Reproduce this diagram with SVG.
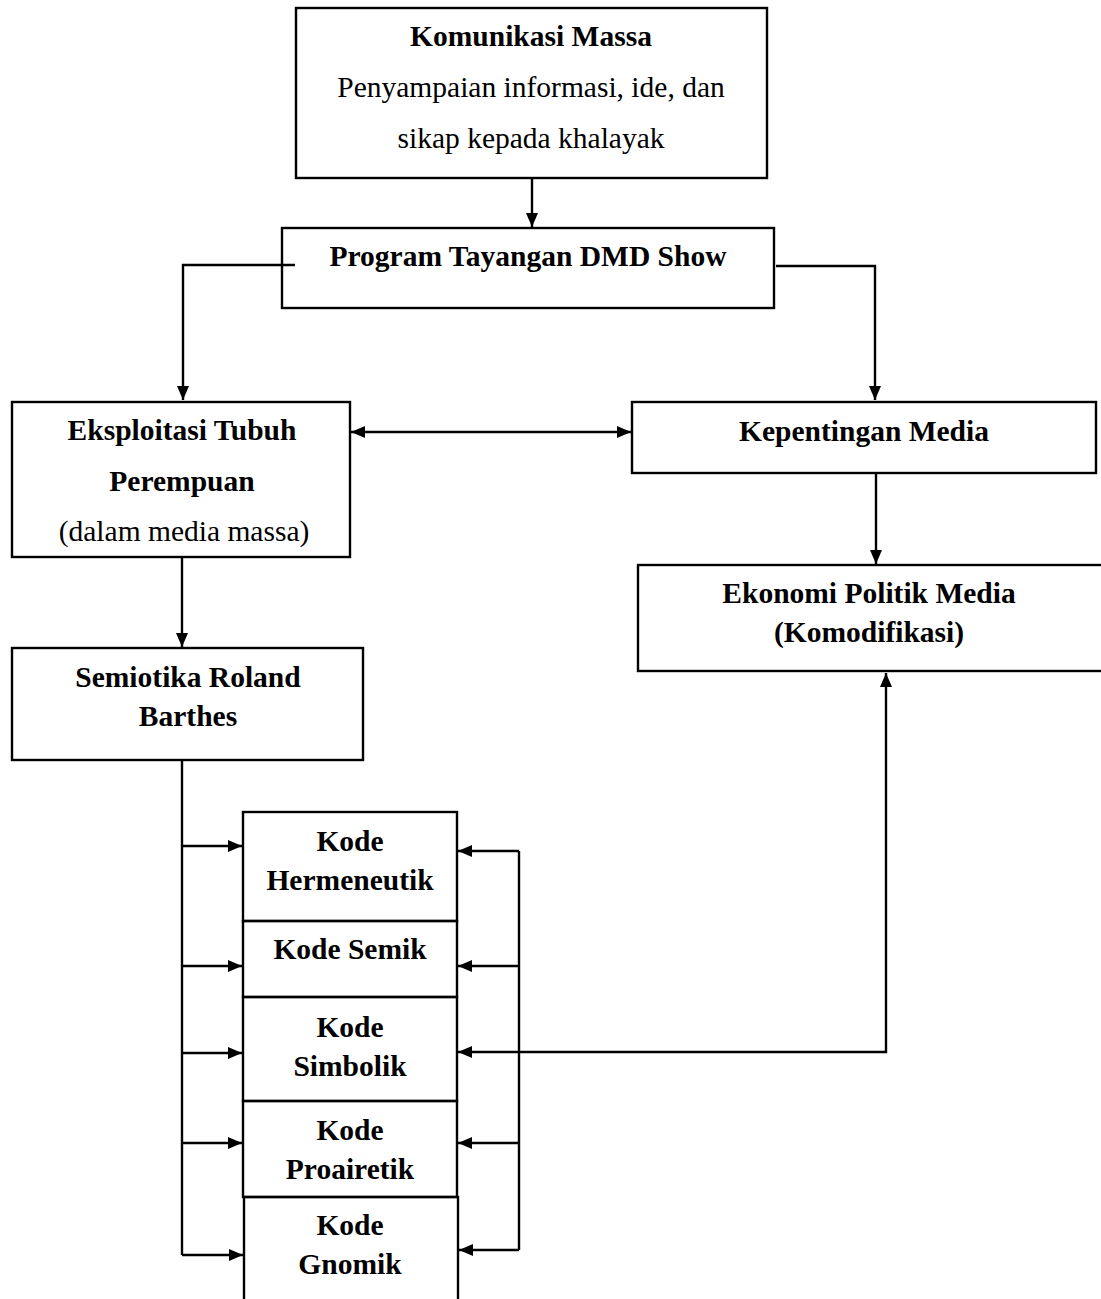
<svg xmlns="http://www.w3.org/2000/svg" width="1101" height="1299" viewBox="0 0 1101 1299">
<style>
.box{fill:none;stroke:#000;stroke-width:2.4}
.t{font-family:"Liberation Serif","Times New Roman",serif;font-size:29.5px;fill:#000;text-anchor:middle}
.b{font-weight:bold}
.c{fill:none;stroke:#000;stroke-width:2.4}
</style>
<defs>
<marker id="ah" viewBox="0 0 14 12" refX="14" refY="6" markerWidth="14" markerHeight="12" markerUnits="userSpaceOnUse" orient="auto-start-reverse">
<path d="M0,0 L14,6 L0,12 Z" fill="#000"/>
</marker>
</defs>
<rect width="1101" height="1299" fill="#fff"/>
<g id="connectors">
<path class="c" d="M532,178 V227" marker-end="url(#ah)"/>
<path class="c" d="M295,265 H183 V400" marker-end="url(#ah)"/>
<path class="c" d="M776,266 H875 V400" marker-end="url(#ah)"/>
<path class="c" d="M351,432 H631" marker-start="url(#ah)" marker-end="url(#ah)"/>
<path class="c" d="M876,473 V564" marker-end="url(#ah)"/>
<path class="c" d="M182,557 V647" marker-end="url(#ah)"/>
<path class="c" d="M182,760 V1255"/>
<path class="c" d="M182,846 H242" marker-end="url(#ah)"/>
<path class="c" d="M182,966 H242" marker-end="url(#ah)"/>
<path class="c" d="M182,1053 H242" marker-end="url(#ah)"/>
<path class="c" d="M182,1143 H242" marker-end="url(#ah)"/>
<path class="c" d="M182,1255 H243" marker-end="url(#ah)"/>
<path class="c" d="M519,851 V1250"/>
<path class="c" d="M519,851 H458" marker-end="url(#ah)"/>
<path class="c" d="M519,966 H458" marker-end="url(#ah)"/>
<path class="c" d="M519,1052 H458" marker-end="url(#ah)"/>
<path class="c" d="M519,1143 H458" marker-end="url(#ah)"/>
<path class="c" d="M519,1250 H459" marker-end="url(#ah)"/>
<path class="c" d="M519,1052 H886 V673" marker-end="url(#ah)"/>
</g>
<g id="komunikasi">
<rect class="box" x="296" y="8" width="471" height="170"/>
<text class="t b" x="531" y="46">Komunikasi Massa</text>
<text class="t" x="531" y="97">Penyampaian informasi, ide, dan</text>
<text class="t" x="531" y="148">sikap kepada khalayak</text>
</g>
<g id="program">
<rect class="box" x="282" y="228" width="492" height="80"/>
<text class="t b" x="528" y="266">Program Tayangan DMD Show</text>
</g>
<g id="eksploitasi">
<rect class="box" x="12" y="402" width="338" height="155"/>
<text class="t b" x="182" y="440">Eksploitasi Tubuh</text>
<text class="t b" x="182" y="491">Perempuan</text>
<text class="t" x="184" y="541">(dalam media massa)</text>
</g>
<g id="kepentingan">
<rect class="box" x="632" y="402" width="464" height="71"/>
<text class="t b" x="864" y="441">Kepentingan Media</text>
</g>
<g id="ekonomi">
<rect class="box" x="638" y="565" width="465" height="106"/>
<text class="t b" x="869" y="603">Ekonomi Politik Media</text>
<text class="t b" x="869" y="642">(Komodifikasi)</text>
</g>
<g id="semiotika">
<rect class="box" x="12" y="648" width="351" height="112"/>
<text class="t b" x="188" y="687">Semiotika Roland</text>
<text class="t b" x="188" y="726">Barthes</text>
</g>
<g id="hermeneutik">
<rect class="box" x="243" y="812" width="214" height="109"/>
<text class="t b" x="350" y="851">Kode</text>
<text class="t b" x="350" y="890">Hermeneutik</text>
</g>
<g id="semik">
<rect class="box" x="243" y="921" width="214" height="76"/>
<text class="t b" x="350" y="959">Kode Semik</text>
</g>
<g id="simbolik">
<rect class="box" x="243" y="997" width="214" height="104"/>
<text class="t b" x="350" y="1037">Kode</text>
<text class="t b" x="350" y="1076">Simbolik</text>
</g>
<g id="proairetik">
<rect class="box" x="243" y="1101" width="214" height="96"/>
<text class="t b" x="350" y="1140">Kode</text>
<text class="t b" x="350" y="1179">Proairetik</text>
</g>
<g id="gnomik">
<rect class="box" x="244" y="1197" width="214" height="110"/>
<text class="t b" x="350" y="1235">Kode</text>
<text class="t b" x="350" y="1274">Gnomik</text>
</g>
</svg>
